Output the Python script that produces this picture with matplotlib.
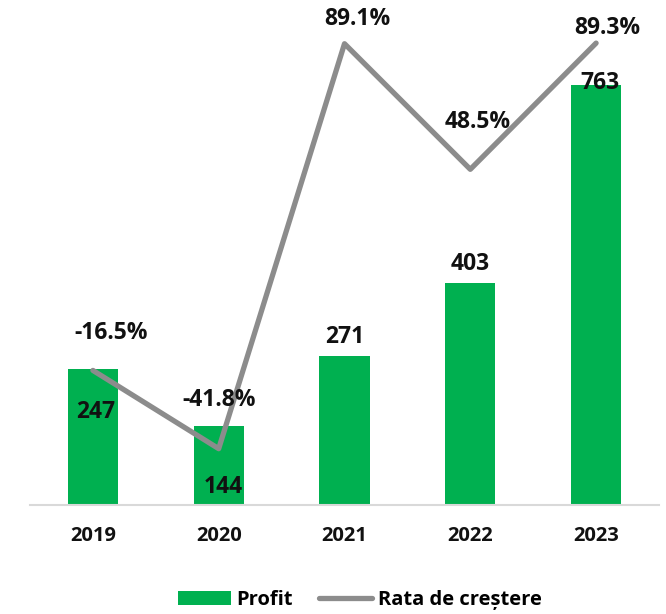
import matplotlib
matplotlib.use("Agg")
import matplotlib.pyplot as plt
from matplotlib.patches import Patch
from matplotlib.lines import Line2D

plt.rcParams['font.family'] = ['Open Sans', 'DejaVu Sans']

years = ["2019", "2020", "2021", "2022", "2023"]
profit = [247, 144, 271, 403, 763]
growth = [-16.5, -41.8, 89.1, 48.5, 89.3]

bar_color = "#00B050"
line_color = "#8C8C8C"

W, H = 666, 614
fig = plt.figure(figsize=(W / 100, H / 100), dpi=100)
ax = fig.add_axes([30 / W, (H - 505) / H, 629 / W, 495 / H])
x = list(range(len(years)))
ax.bar(x, profit, width=0.4, color=bar_color, zorder=2)
ax.set_xlim(-0.5, 4.5)
ax.set_ylim(0, 900)
ax.set_yticks([])
for s in ["top", "right", "left"]:
    ax.spines[s].set_visible(False)
ax.spines["bottom"].set_color("#D9D9D9")
ax.spines["bottom"].set_linewidth(1.5)
ax.set_xticks(x)
ax.set_xticklabels(years, fontsize=14.5, fontweight="bold", color="#111111")
ax.tick_params(axis="x", length=0, pad=15)

ax2 = ax.twinx()
ax2.set_ylim(-60, 100)
ax2.set_yticks([])
for s in ["top", "right", "left", "bottom"]:
    ax2.spines[s].set_visible(False)
ax2.plot(x, growth, color=line_color, linewidth=3.8, solid_capstyle="round", zorder=3)

# bar value labels (offsets in points)
bar_off = [(2, -31), (3, -44), (0, 14), (0, 14), (3, 2)]
for xi, v, (dx, dy) in zip(x, profit, bar_off):
    ax.annotate(f"{v}", (xi, v), xytext=(dx, dy), textcoords="offset points",
                ha="center", va="center", fontsize=16.5, fontweight="bold", color="#111111", zorder=5)

# growth labels
g_off = [(13, 27), (0, 35), (9, 18), (5, 34), (8, 11)]
for xi, v, (dx, dy) in zip(x, growth, g_off):
    ax2.annotate(f"{v:.1f}%", (xi, v), xytext=(dx, dy), textcoords="offset points",
                 ha="center", va="center", fontsize=16.5, fontweight="bold", color="#111111", zorder=5)

handles = [Patch(facecolor=bar_color, label="Profit"),
           Line2D([0], [0], color=line_color, linewidth=3.8, solid_capstyle="round", label="Rata de creștere")]
fig.legend(handles=handles, loc="center", bbox_to_anchor=(360 / W, 1 - 600 / H), ncol=2,
           frameon=False, prop={"size": 14.5, "weight": "bold"}, handlelength=2.6,
           handletextpad=0.3, columnspacing=1.3)

fig.savefig("out.png", dpi=100)
